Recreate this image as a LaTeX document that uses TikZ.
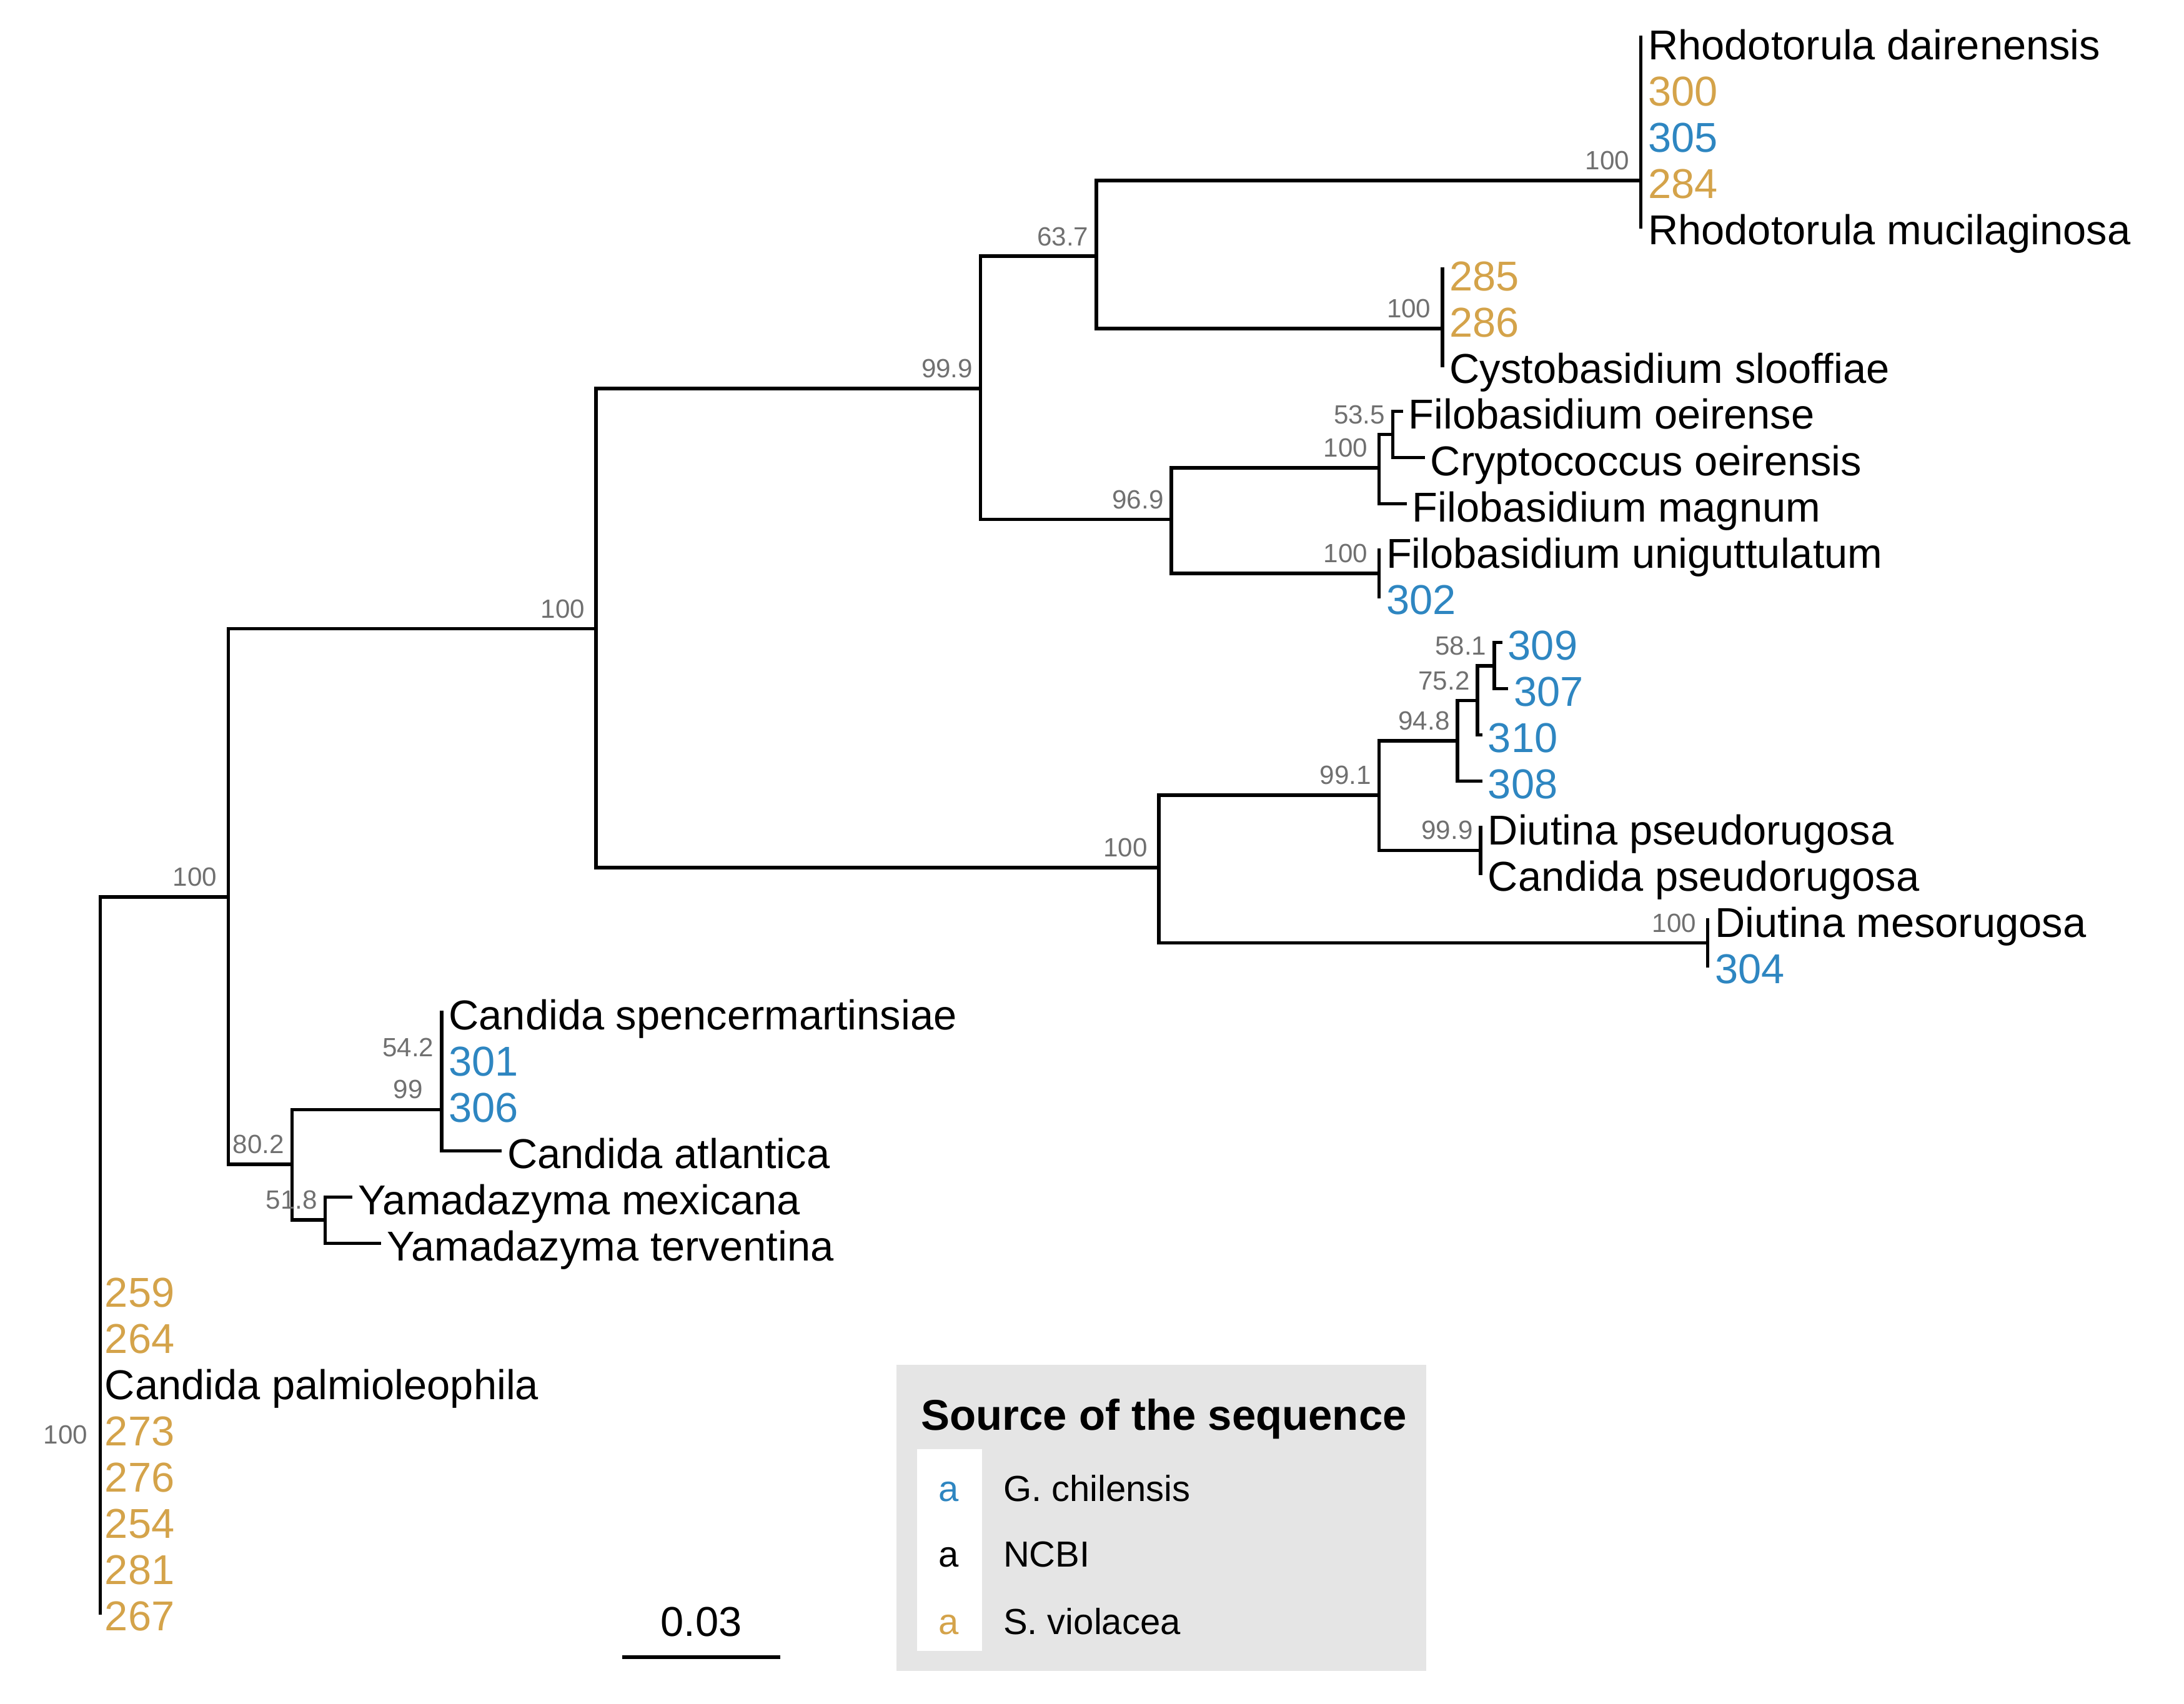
\documentclass[tikz,border=0pt]{standalone}
\usepackage{fontspec}
\setmainfont{Liberation Sans}
\definecolor{gold}{HTML}{D4A34A}
\definecolor{blu}{HTML}{2E86C1}
\definecolor{supg}{HTML}{707070}
\definecolor{legbg}{HTML}{E5E5E5}
\tikzset{
  branch/.style={line width=1.6pt, line cap=rect, line join=miter},
  leaflab/.style={anchor=west, inner sep=0pt, font=\fontsize{19}{19}\selectfont, text height=13.6pt, text depth=0pt},
  suplab/.style={anchor=center, inner sep=0pt, font=\fontsize{12}{12}\selectfont, text=supg, text height=8.6pt, text depth=0pt},
  legtxt/.style={anchor=base west, inner sep=0pt, font=\fontsize{16.5}{16.5}\selectfont},
  lega/.style={anchor=base, inner sep=0pt, font=\fontsize{16.5}{16.5}\selectfont},
}
\begin{document}
\begin{tikzpicture}[x=0.022296cm, y=-0.022296cm]
\useasboundingbox (0,0) rectangle (1568,1223.5);

% ---------- internal nodes ----------
\coordinate (root) at (72,843);
\coordinate (A) at (164,644);
\coordinate (palm) at (72,1042);
\coordinate (B) at (428,451.5);
\coordinate (N) at (209.6,836);
\coordinate (C) at (704,279);
\coordinate (I) at (832,623);
\coordinate (D) at (787,184);
\coordinate (E) at (841,373);
\coordinate (R) at (1178,129.5);
\coordinate (Cy) at (1035.5,236);
\coordinate (F) at (990,336);
\coordinate (H) at (990,411.6);
\coordinate (G) at (1000,312);
\coordinate (J) at (990,571);
\coordinate (DM) at (1226,677);
\coordinate (K) at (1046.4,532);
\coordinate (DP) at (1063,610.7);
\coordinate (L) at (1060.7,503);
\coordinate (M) at (1072.8,478);
\coordinate (O) at (317,796.7);
\coordinate (S) at (317,766.5);
\coordinate (P) at (233.4,876);

% ---------- tips ----------
\coordinate (tRd) at (1178,27);
\coordinate (tRm) at (1178,162.7);
\coordinate (t285) at (1035.5,193);
\coordinate (tCys) at (1035.5,262.3);
\coordinate (toei) at (1006,295.4);
\coordinate (tcry) at (1021.7,328.6);
\coordinate (tmag) at (1008.7,361.8);
\coordinate (tuni) at (990,395);
\coordinate (t302) at (990,428.2);
\coordinate (t309) at (1077.3,461.3);
\coordinate (t307) at (1081.6,494.5);
\coordinate (t310) at (1063,527.7);
\coordinate (t308) at (1063,560.9);
\coordinate (tdp) at (1063,594.1);
\coordinate (tcp) at (1063,627.2);
\coordinate (tdm) at (1226,660.4);
\coordinate (t304) at (1226,693.6);
\coordinate (tspe) at (317,726.8);
\coordinate (t306) at (317,793.1);
\coordinate (tatl) at (359,826.3);
\coordinate (tmex) at (251.8,859.5);
\coordinate (tter) at (272.4,892.7);
\coordinate (t259) at (72,925.9);
\coordinate (t267) at (72,1158.1);

% ---------- branches ----------
\draw[branch] (root) |- (A);
\draw[branch] (root) -- (palm);
\draw[branch] (palm) |- (t259);
\draw[branch] (palm) |- (t267);
\draw[branch] (A) |- (B);
\draw[branch] (A) |- (N);
\draw[branch] (B) |- (C);
\draw[branch] (B) |- (I);
\draw[branch] (C) |- (D);
\draw[branch] (C) |- (E);
\draw[branch] (D) |- (R);
\draw[branch] (D) |- (Cy);
\draw[branch] (R) |- (tRd);
\draw[branch] (R) |- (tRm);
\draw[branch] (Cy) |- (t285);
\draw[branch] (Cy) |- (tCys);
\draw[branch] (E) |- (F);
\draw[branch] (E) |- (H);
\draw[branch] (F) |- (G);
\draw[branch] (F) |- (tmag);
\draw[branch] (G) |- (toei);
\draw[branch] (G) |- (tcry);
\draw[branch] (H) |- (tuni);
\draw[branch] (H) |- (t302);
\draw[branch] (I) |- (J);
\draw[branch] (I) |- (DM);
\draw[branch] (J) |- (K);
\draw[branch] (J) |- (DP);
\draw[branch] (K) |- (L);
\draw[branch] (K) |- (t308);
\draw[branch] (L) |- (M);
\draw[branch] (L) |- (t310);
\draw[branch] (M) |- (t309);
\draw[branch] (M) |- (t307);
\draw[branch] (DP) |- (tdp);
\draw[branch] (DP) |- (tcp);
\draw[branch] (DM) |- (tdm);
\draw[branch] (DM) |- (t304);
\draw[branch] (N) |- (O);
\draw[branch] (N) |- (P);
\draw[branch] (O) |- (S);
\draw[branch] (O) |- (tatl);
\draw[branch] (S) |- (tspe);
\draw[branch] (S) |- (t306);
\draw[branch] (P) |- (tmex);
\draw[branch] (P) |- (tter);

% ---------- leaf labels ----------
\node[leaflab] (lRd) at (1183,32) {Rhodotorula dairenensis};
\node[leaflab, text=gold] (l300) at (1183,65.2) {300};
\node[leaflab, text=blu] (l305) at (1183,98.4) {305};
\node[leaflab, text=gold] (l284) at (1183,131.5) {284};
\node[leaflab] (lRm) at (1183,164.7) {Rhodotorula mucilaginosa};
\node[leaflab, text=gold] (l285) at (1040.5,197.9) {285};
\node[leaflab, text=gold] (l286) at (1040.5,231.1) {286};
\node[leaflab] (lCys) at (1040.5,264.3) {Cystobasidium slooffiae};
\node[leaflab] (loei) at (1011,297.4) {Filobasidium oeirense};
\node[leaflab] (lcry) at (1026.7,330.6) {Cryptococcus oeirensis};
\node[leaflab] (lmag) at (1013.7,363.8) {Filobasidium magnum};
\node[leaflab] (luni) at (995,397) {Filobasidium uniguttulatum};
\node[leaflab, text=blu] (l302) at (995,430.2) {302};
\node[leaflab, text=blu] (l309) at (1082.3,463.3) {309};
\node[leaflab, text=blu] (l307) at (1086.6,496.5) {307};
\node[leaflab, text=blu] (l310) at (1068,529.7) {310};
\node[leaflab, text=blu] (l308) at (1068,562.9) {308};
\node[leaflab] (ldp) at (1068,596.1) {Diutina pseudorugosa};
\node[leaflab] (lcp) at (1068,629.2) {Candida pseudorugosa};
\node[leaflab] (ldm) at (1231,662.4) {Diutina mesorugosa};
\node[leaflab, text=blu] (l304) at (1231,695.6) {304};
\node[leaflab] (lspe) at (322,728.8) {Candida spencermartinsiae};
\node[leaflab, text=blu] (l301) at (322,762) {301};
\node[leaflab, text=blu] (l306) at (322,795.1) {306};
\node[leaflab] (latl) at (364,828.3) {Candida atlantica};
\node[leaflab] (lmex) at (256.8,861.5) {Yamadazyma mexicana};
\node[leaflab] (lter) at (277.4,894.7) {Yamadazyma terventina};
\node[leaflab, text=gold] (l259) at (75,927.9) {259};
\node[leaflab, text=gold] (l264) at (75,961) {264};
\node[leaflab] (lpal) at (75,994.2) {Candida palmioleophila};
\node[leaflab, text=gold] (l273) at (75,1027.4) {273};
\node[leaflab, text=gold] (l276) at (75,1060.6) {276};
\node[leaflab, text=gold] (l254) at (75,1093.8) {254};
\node[leaflab, text=gold] (l281) at (75,1126.9) {281};
\node[leaflab, text=gold] (l267) at (75,1160.1) {267};

% ---------- support values ----------
\node[suplab] (sD) at (763,169.5) {63.7};
\node[suplab] (sC) at (680,264.5) {99.9};
\node[suplab] (sB) at (404,437) {100};
\node[suplab] (sA) at (140,629.5) {100};
\node[suplab] (sE) at (817,358.5) {96.9};
\node[suplab] (sF) at (966,321.5) {100};
\node[suplab] (sG) at (976,297.5) {53.5};
\node[suplab] (sR) at (1154,115) {100};
\node[suplab] (sCy) at (1011.5,221.5) {100};
\node[suplab] (sH) at (966,397) {100};
\node[suplab] (sI) at (808,608.5) {100};
\node[suplab] (sJ) at (966,556.5) {99.1};
\node[suplab] (sK) at (1022.4,517.5) {94.8};
\node[suplab] (sL) at (1036.7,488.5) {75.2};
\node[suplab] (sM) at (1048.8,463.5) {58.1};
\node[suplab] (sDP) at (1039,596) {99.9};
\node[suplab] (sDM) at (1202,662.5) {100};
\node[suplab] (sS) at (293,752) {54.2};
\node[suplab] (sO) at (293,782) {99};
\node[suplab] (sN) at (185.6,821.5) {80.2};
\node[suplab] (sP) at (209.4,861.5) {51.8};
\node[suplab] (spalm) at (47,1030) {100};

% ---------- scale bar ----------
\coordinate (sb1) at (446.7,1190);
\coordinate (sb2) at (560.2,1190);
\draw[branch, line cap=butt] (sb1) -- (sb2);
\node[anchor=center, inner sep=0pt, font=\fontsize{19}{19}\selectfont, text height=13.6pt, text depth=0pt] (sbl) at (503.5,1164) {0.03};

% ---------- legend ----------
\fill[legbg] (643.6,980) rectangle (1024,1199.8);
\fill[white] (658.4,1040.4) rectangle (705,1185.4);
\node[anchor=base west, inner sep=0pt, font=\fontsize{19.6}{19.6}\selectfont\bfseries] (legtitle) at (661,1027) {Source of the sequence};
\node[lega, text=blu] (la1) at (681,1078) {a};
\node[legtxt] (lt1) at (720,1078) {G. chilensis};
\node[lega] (la2) at (681,1125) {a};
\node[legtxt] (lt2) at (720,1125) {NCBI};
\node[lega, text=gold] (la3) at (681,1173.6) {a};
\node[legtxt] (lt3) at (720,1173.6) {S. violacea};
\end{tikzpicture}
\end{document}
